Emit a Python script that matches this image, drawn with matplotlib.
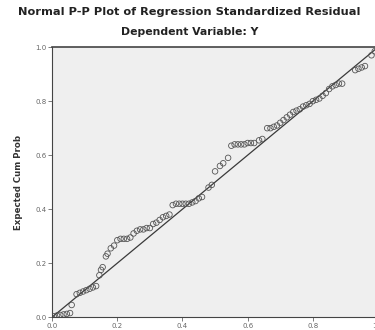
import matplotlib
matplotlib.use("Agg")
import matplotlib.pyplot as plt

obs = [0.005, 0.015, 0.025, 0.035, 0.045, 0.055,
       0.06,
       0.075, 0.085, 0.095, 0.105, 0.115, 0.125, 0.135,
       0.145, 0.15, 0.155,
       0.165, 0.17, 0.18, 0.19,
       0.2, 0.21, 0.22, 0.23, 0.24,
       0.25, 0.26, 0.27, 0.28, 0.29, 0.30,
       0.31, 0.32, 0.33, 0.34, 0.35, 0.36,
       0.37, 0.38, 0.39, 0.40, 0.41, 0.42, 0.43, 0.44,
       0.45, 0.46,
       0.48, 0.49,
       0.50, 0.515, 0.525, 0.54,
       0.55, 0.56, 0.57, 0.58, 0.59, 0.60, 0.61, 0.62,
       0.635, 0.645,
       0.66, 0.67, 0.68, 0.69, 0.70,
       0.71, 0.72, 0.73, 0.74, 0.75, 0.76,
       0.77, 0.78, 0.79, 0.80, 0.81, 0.82,
       0.83, 0.84, 0.85, 0.86, 0.87, 0.88, 0.89,
       0.93, 0.94, 0.95, 0.96,
       0.98, 0.99]
expected = [0.003, 0.006, 0.008, 0.01, 0.012, 0.015,
            0.045,
            0.085, 0.09, 0.095, 0.1, 0.105, 0.11, 0.115,
            0.155, 0.175, 0.185,
            0.225, 0.235, 0.255, 0.265,
            0.285, 0.29, 0.29, 0.29, 0.295,
            0.31, 0.32, 0.325, 0.325, 0.33, 0.33,
            0.345, 0.35, 0.36, 0.37, 0.375, 0.38,
            0.415, 0.42, 0.42, 0.42, 0.42, 0.42, 0.425, 0.43,
            0.44, 0.445,
            0.48, 0.49,
            0.54, 0.56, 0.57, 0.59,
            0.635, 0.64, 0.64, 0.64, 0.64, 0.645, 0.645, 0.645,
            0.655, 0.66,
            0.70, 0.70, 0.705, 0.71, 0.72,
            0.73, 0.74, 0.75, 0.76, 0.765, 0.77,
            0.78, 0.785, 0.79, 0.80, 0.805, 0.81,
            0.82, 0.83, 0.845, 0.855, 0.86, 0.865, 0.865,
            0.915, 0.92, 0.925, 0.93,
            0.97, 0.985]
ticks = [0.0, 0.2, 0.4, 0.6, 0.8, 1.0]
tick_labels = ["0.0", "0.2", "0.4", "0.6", "0.8", "1.0"]

fig = plt.figure(figsize=(3.75, 3.3), dpi=100)
ax = fig.add_axes([0.139, 0.039, 0.869, 0.818])
ax.set_facecolor("#efefef")

ax.plot([0, 1], [0, 1], color="#3a3a3a", lw=0.9, zorder=2)
ax.scatter(obs, expected, s=16, facecolors="none", edgecolors="#555555",
           linewidths=0.6, zorder=3)

ax.set_xlim(0, 1)
ax.set_ylim(0, 1)
ax.set_xticks(ticks)
ax.set_xticklabels(tick_labels)
ax.set_yticks(ticks)
ax.set_yticklabels(tick_labels)
ax.tick_params(labelsize=5, colors="#666666", length=3, width=0.6, pad=1)
for s in ax.spines.values():
    s.set_color("#444444")
    s.set_linewidth(0.8)
ax.spines["top"].set_linewidth(1.2)

ax.set_ylabel("Expected Cum Prob", fontsize=6.2, fontweight="bold",
              color="#333333", labelpad=9)

fig.text(0.505, 0.963, "Normal P-P Plot of Regression Standardized Residual",
         ha="center", va="center", fontsize=8.2, fontweight="bold", color="#222222")
fig.text(0.505, 0.903, "Dependent Variable: Y", ha="center", va="center",
         fontsize=7.8, fontweight="bold", color="#222222")

fig.savefig("out.png", dpi=100)
